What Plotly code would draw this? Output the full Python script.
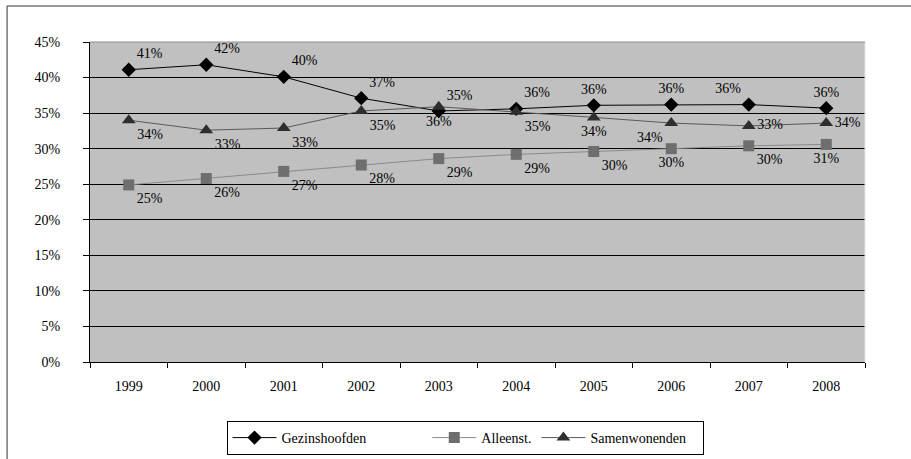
import plotly.graph_objects as go

years = ["1999", "2000", "2001", "2002", "2003", "2004", "2005", "2006", "2007", "2008"]
gezinshoofden = [41.1, 41.8, 40.1, 37.1, 35.3, 35.6, 36.1, 36.2, 36.2, 35.7]
alleenst = [24.9, 25.8, 26.8, 27.7, 28.6, 29.2, 29.6, 30.0, 30.4, 30.6]
samenwonenden = [34.0, 32.6, 32.9, 35.3, 35.9, 35.2, 34.4, 33.6, 33.2, 33.6]
y_ticks = [0, 5, 10, 15, 20, 25, 30, 35, 40, 45]

FONT = "Liberation Serif"

def labels(vals):
    return [f"{round(v):.0f}%" for v in vals]

fig = go.Figure()
fig.add_trace(go.Scatter(
    x=years, y=gezinshoofden, name="Gezinshoofden" + "\u00a0" * 16,
    mode="lines+markers+text",
    line=dict(color="black", width=1),
    marker=dict(symbol="diamond", size=11, color="black"),
    text=labels(gezinshoofden),
    textposition=["top right"] * 6 + ["top center", "top center", "top left", "top center"],
    textfont=dict(family=FONT, size=14, color="black"),
))
fig.add_trace(go.Scatter(
    x=years, y=alleenst, name="Alleenst.",
    mode="lines+markers+text",
    line=dict(color="#8a8a8a", width=1),
    marker=dict(symbol="square", size=11, color="#6e6e6e"),
    text=labels(alleenst),
    textposition=["bottom right"] * 7 + ["bottom center", "bottom right", "bottom center"],
    textfont=dict(family=FONT, size=14, color="black"),
))
fig.add_trace(go.Scatter(
    x=years, y=samenwonenden, name="Samenwonenden" + "\u00a0" * 3,
    mode="lines+markers+text",
    line=dict(color="#5a5a5a", width=1),
    marker=dict(symbol="triangle-up", size=12, color="#2e2e2e"),
    text=labels(samenwonenden),
    textposition=["bottom right", "bottom right", "bottom right", "bottom right",
                  "bottom center", "bottom right", "bottom center", "bottom left",
                  "middle right", "middle right"],
    textfont=dict(family=FONT, size=14, color="black"),
))

fig.update_layout(
    width=911, height=459, autosize=False,
    margin=dict(l=90, r=46, t=42, b=97),
    paper_bgcolor="white",
    plot_bgcolor="#c0c0c0",
    font=dict(family=FONT, size=14, color="black"),
    showlegend=True,
    legend=dict(
        orientation="h", xref="container", yref="container",
        x=465 / 911, xanchor="center", y=1 - 421 / 459, yanchor="top",
        bordercolor="black", borderwidth=1, bgcolor="white",
        font=dict(family=FONT, size=14, color="black"),
        itemclick=False, itemwidth=44,
    ),
    shapes=[
        dict(type="rect", xref="paper", yref="paper",
             x0=-0.107, x1=1.2, y0=-0.5, y1=1.1125,
             line=dict(color="#333333", width=1), fillcolor="rgba(0,0,0,0)",
             layer="below"),
        dict(type="line", xref="paper", yref="paper",
             x0=1, x1=1, y0=0, y1=1, line=dict(color="#e6e6e6", width=1)),
        dict(type="line", xref="paper", yref="paper",
             x0=0, x1=1, y0=1, y1=1, line=dict(color="#8c8c8c", width=1)),
    ],
)
fig.update_xaxes(
    type="category", range=[-0.5, 9.5], tickson="boundaries",
    ticks="outside", ticklen=5, tickcolor="black",
    showline=True, linecolor="black", linewidth=1,
    showgrid=False, ticklabelstandoff=11, automargin=False,
    tickfont=dict(family=FONT, size=14),
)
fig.update_yaxes(
    range=[0, 45], tickvals=y_ticks, ticktext=[f"{v}%" for v in y_ticks],
    ticks="outside", ticklen=6, tickcolor="black",
    showline=True, linecolor="black", linewidth=1,
    showgrid=True, gridcolor="black", gridwidth=1,
    zeroline=False, ticklabelstandoff=20, automargin=False,
    tickfont=dict(family=FONT, size=14),
)

fig.write_html("out.html",
               config={"displayModeBar": False, "responsive": False},
               post_script="document.body.style.margin='0';document.body.style.padding='0';")
